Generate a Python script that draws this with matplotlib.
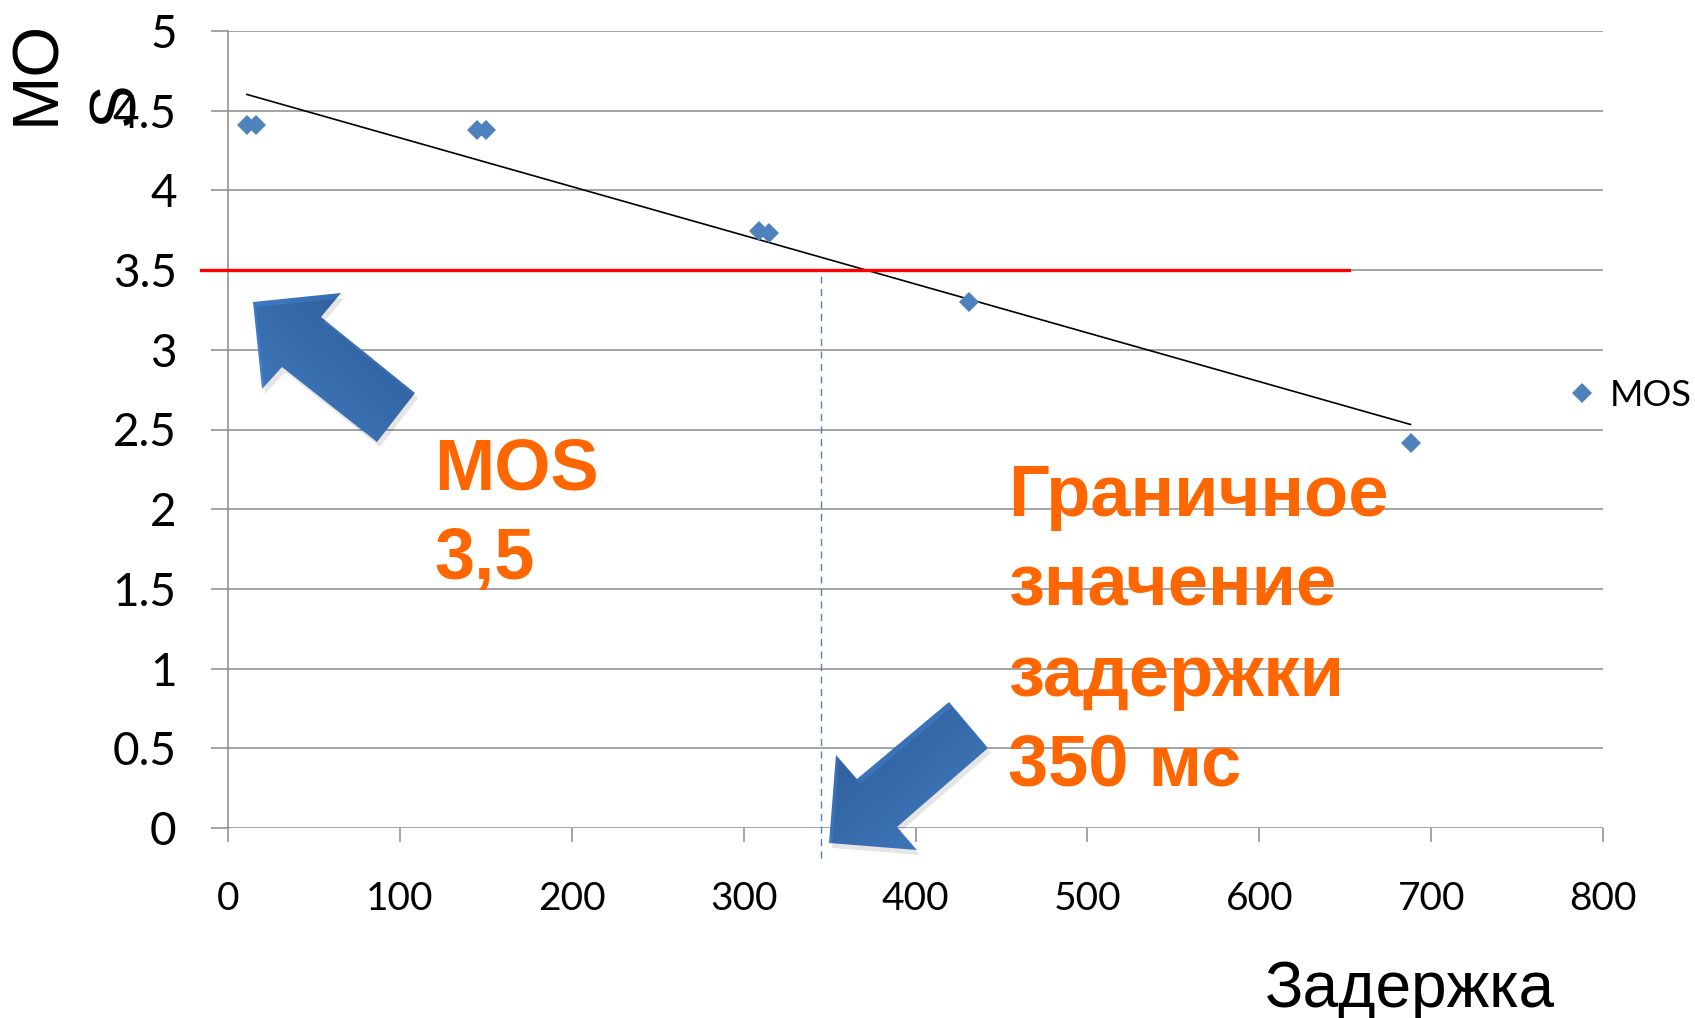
import numpy as np
import matplotlib
matplotlib.use("Agg")
import matplotlib.pyplot as plt
import matplotlib.patches as mpatches
from matplotlib.colors import LinearSegmentedColormap

# --- values ---
delay_ms = [11, 16, 145, 150, 309, 315, 431, 688]
mos_values = [4.41, 4.41, 4.38, 4.38, 3.745, 3.73, 3.30, 2.415]

mos_threshold = 3.5
threshold_span = [-16, 652]        # red line runs a bit past the axis on the left
delay_threshold = 345
delay_span = [-0.19, 3.5]          # dashed marker drops just below the axis

x_ticks = [0, 100, 200, 300, 400, 500, 600, 700, 800]
y_ticks = [0, 0.5, 1, 1.5, 2, 2.5, 3, 3.5, 4, 4.5, 5]
y_tick_labels = ["0", "0.5", "1", "1.5", "2", "2.5", "3", "3.5", "4", "4.5", "5"]

y_title_parts = ["MO", "S"]        # the slide wraps "MOS" onto two lines
mos_note = ["MOS", "3,5"]
delay_note = ["Граничное", "значение", "задержки", "350 мс"]

# block arrows, pixel outlines (x right, y down)
arrow_up = np.array([(253, 302), (341, 293), (321, 317), (415, 393),
                     (377, 442), (282, 367), (262, 389)], dtype=float)
arrow_down = np.array([(829, 843), (917, 850), (897, 827), (988, 748),
                       (949, 702), (857, 779), (836, 755)], dtype=float)

W, H = 1695, 1018
GRID = "#8C8C8C"
BLUE = "#4F81BD"
ORANGE = "#FF6600"
NOTE_FONT = "Liberation Sans"
LINE_STEP = 90   # px between baselines of the orange notes

plt.rcParams["font.family"] = "Lato"

fig = plt.figure(figsize=(W / 100, H / 100), dpi=100)
ax = fig.add_axes([228 / W, 1 - 828 / H, 1375 / W, 797 / H])

# data + linear trend
ax.plot(delay_ms, mos_values, linestyle="none", marker="D", markersize=10,
        color=BLUE, markeredgewidth=0, label="MOS", zorder=4)
fit = np.polyfit(delay_ms, mos_values, 1)
fit_x = np.array([min(delay_ms), max(delay_ms)])
ax.plot(fit_x, np.polyval(fit, fit_x), color="black", lw=1.2, zorder=3)

# thresholds
ax.plot(threshold_span, [mos_threshold] * 2, color="#FF0000", lw=2.4,
        clip_on=False, zorder=3)
ax.plot([delay_threshold] * 2, delay_span, color=BLUE, lw=1.0,
        linestyle=(0, (5, 4)), clip_on=False, zorder=3)

ax.set_xlim(0, 800)
ax.set_ylim(0, 5)
ax.set_xticks(x_ticks)
ax.set_yticks(y_ticks)
ax.set_yticklabels(y_tick_labels)
ax.grid(axis="y", color=GRID, lw=1.1)
ax.set_axisbelow(True)
for side in ["top", "right", "bottom"]:
    ax.spines[side].set_visible(False)
ax.spines["left"].set_color(GRID)
ax.spines["left"].set_linewidth(1.1)
ax.tick_params(axis="y", direction="out", length=12, width=1.1, color=GRID,
               pad=25, labelsize=33)
ax.tick_params(axis="x", direction="out", length=10, width=1.1, color=GRID,
               pad=28, labelsize=28)

ax.legend(loc="center left", bbox_to_anchor=(1568 / W, 1 - 395 / H),
          bbox_transform=fig.transFigure, frameon=False, borderpad=0,
          borderaxespad=0, handlelength=0.8, handletextpad=0.35,
          numpoints=1, prop={"family": "Lato", "size": 26})

# axis titles
for i, part in enumerate(y_title_parts):
    fig.text((54 + 79 * i) / W, 1 - 125 / H, part, rotation=90,
             rotation_mode="anchor", ha="left", va="baseline", fontsize=47,
             family=NOTE_FONT)
fig.text(1265 / W, 1 - 1007 / H, "Задержка", ha="left", va="baseline",
         fontsize=46, family=NOTE_FONT)

# orange notes, one baseline per line
for i, line in enumerate(mos_note):
    fig.text(434 / W, 1 - (489 + LINE_STEP * i) / H, line, ha="left",
             va="baseline", fontsize=52, weight="bold", color=ORANGE,
             family=NOTE_FONT)
for i, line in enumerate(delay_note):
    fig.text(1008 / W, 1 - (516 + LINE_STEP * i) / H, line, ha="left",
             va="baseline", fontsize=52, weight="bold", color=ORANGE,
             family=NOTE_FONT)

# blue block arrows with a light gradient and soft shadow
ov = fig.add_axes([0, 0, 1, 1], zorder=5)
ov.patch.set_alpha(0)
arrow_cmap = LinearSegmentedColormap.from_list("arr", ["#4A8BD8", "#3264A6"])


def block_arrow(pts, dark_upper_right):
    ov.add_patch(mpatches.Polygon(pts + [3, 5], closed=True, facecolor="black",
                                  alpha=0.10, lw=0))
    outline = mpatches.Polygon(pts, closed=True, facecolor="none", lw=0)
    ov.add_patch(outline)
    gx, gy = np.meshgrid(np.linspace(0, 1, 64), np.linspace(0, 1, 64))
    if dark_upper_right:
        shade = (gx - gy + 1) / 2
    else:
        shade = (2 - gx - gy) / 2
    x0, x1 = pts[:, 0].min(), pts[:, 0].max()
    y0, y1 = pts[:, 1].min(), pts[:, 1].max()
    im = ov.imshow(shade, extent=(x0, x1, y1, y0), cmap=arrow_cmap,
                   aspect="auto", interpolation="bilinear")
    im.set_clip_path(outline)


block_arrow(arrow_up, True)
block_arrow(arrow_down, False)
ov.set_xlim(0, W)
ov.set_ylim(H, 0)
ov.axis("off")

fig.savefig("out.png", dpi=100)
